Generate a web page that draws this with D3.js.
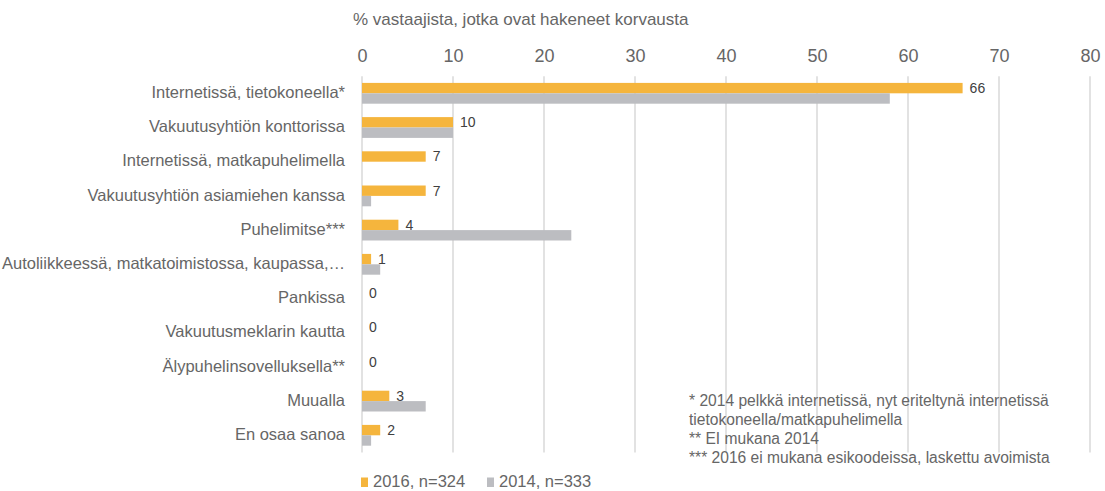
<!DOCTYPE html>
<html><head><meta charset="utf-8">
<script src="https://cdn.jsdelivr.net/npm/d3@7"></script>
<style>
html,body{margin:0;padding:0;background:#fff;}
svg{display:block;font-family:"Liberation Sans",Arial,sans-serif;}
</style></head>
<body><svg id="chart" width="1105" height="491"></svg>
<script>
const categories = ["Internetissä, tietokoneella*","Vakuutusyhtiön konttorissa","Internetissä, matkapuhelimella","Vakuutusyhtiön asiamiehen kanssa","Puhelimitse***","Autoliikkeessä, matkatoimistossa, kaupassa,…","Pankissa","Vakuutusmeklarin kautta","Älypuhelinsovelluksella**","Muualla","En osaa sanoa"];
const values2016 = [66,10,7,7,4,1,0,0,0,3,2];
const values2014 = [58,10,0,1,23,2,0,0,0,7,1];
const seriesNames = ["2016, n=324","2014, n=333"];
const xTicks = [0,10,20,30,40,50,60,70,80];
const axisTitle = "% vastaajista, jotka ovat hakeneet korvausta";
const footnotes = ["* 2014 pelkkä internetissä, nyt eriteltynä internetissä","tietokoneella/matkapuhelimella","** EI mukana 2014","*** 2016 ei mukana esikoodeissa, laskettu avoimista"];

const colors = ["#F5B53D","#BCBDC1"];
const textColor = "#666666";
const svg = d3.select("#chart");

const x = d3.scaleLinear().domain([0,80]).range([362,1090]);
const y = d3.scaleBand().domain(categories).range([76.2,452.4]).paddingInner(0.392).paddingOuter(0.196);
const ySub = d3.scaleBand().domain([0,1]).range([0,y.bandwidth()]);

// gridlines
svg.append("g").selectAll("line").data(xTicks).join("line")
  .attr("x1",d=>x(d)).attr("x2",d=>x(d))
  .attr("y1",y.range()[0]).attr("y2",y.range()[1])
  .attr("stroke","#d9d9d9").attr("stroke-width",1.5);

// top axis labels
const axis = d3.axisTop(x).tickValues(xTicks).tickSize(0).tickPadding(0);
const ag = svg.append("g").attr("transform","translate(0,62)").call(axis);
ag.select(".domain").remove();
ag.selectAll("text").attr("font-size","18px").attr("fill",textColor)
  .attr("font-family","Liberation Sans, Arial, sans-serif").attr("dy","0");

// axis title
svg.append("text").attr("x",353).attr("y",25).attr("font-size","17px")
  .attr("fill",textColor).text(axisTitle);

// category labels
svg.append("g").selectAll("text").data(categories).join("text")
  .attr("x",345).attr("y",d=>y(d)+y.bandwidth()/2-1).attr("dy","0.35em")
  .attr("text-anchor","end").attr("font-size","16.5px").attr("fill",textColor)
  .text(d=>d);

// bars
const series = [values2016, values2014];
series.forEach((vals,si)=>{
  svg.append("g").selectAll("rect").data(vals.map((v,i)=>({v,c:categories[i]}))).join("rect")
    .attr("x",x(0)).attr("y",d=>y(d.c)+ySub(si))
    .attr("width",d=>x(d.v)-x(0)).attr("height",ySub.bandwidth())
    .attr("fill",colors[si]);
});

// value labels (2016)
svg.append("g").selectAll("text").data(values2016.map((v,i)=>({v,c:categories[i]}))).join("text")
  .attr("x",d=>x(d.v)+7).attr("y",d=>y(d.c)+ySub(0)+ySub.bandwidth()/2).attr("dy","0.35em")
  .attr("font-size","14px").attr("fill","#404040").text(d=>d.v);

// footnotes
svg.append("g").selectAll("text").data(footnotes).join("text")
  .attr("x",689).attr("y",(d,i)=>406+i*19).attr("font-size","15.6px")
  .attr("fill",textColor).text(d=>d);

// legend
const legX = [361,487];
seriesNames.forEach((n,i)=>{
  svg.append("rect").attr("x",legX[i]).attr("y",477.5).attr("width",7).attr("height",9.5).attr("fill",colors[i]);
  svg.append("text").attr("x",legX[i]+12).attr("y",487).attr("font-size","16.5px").attr("fill",textColor).text(n);
});
</script></body></html>
